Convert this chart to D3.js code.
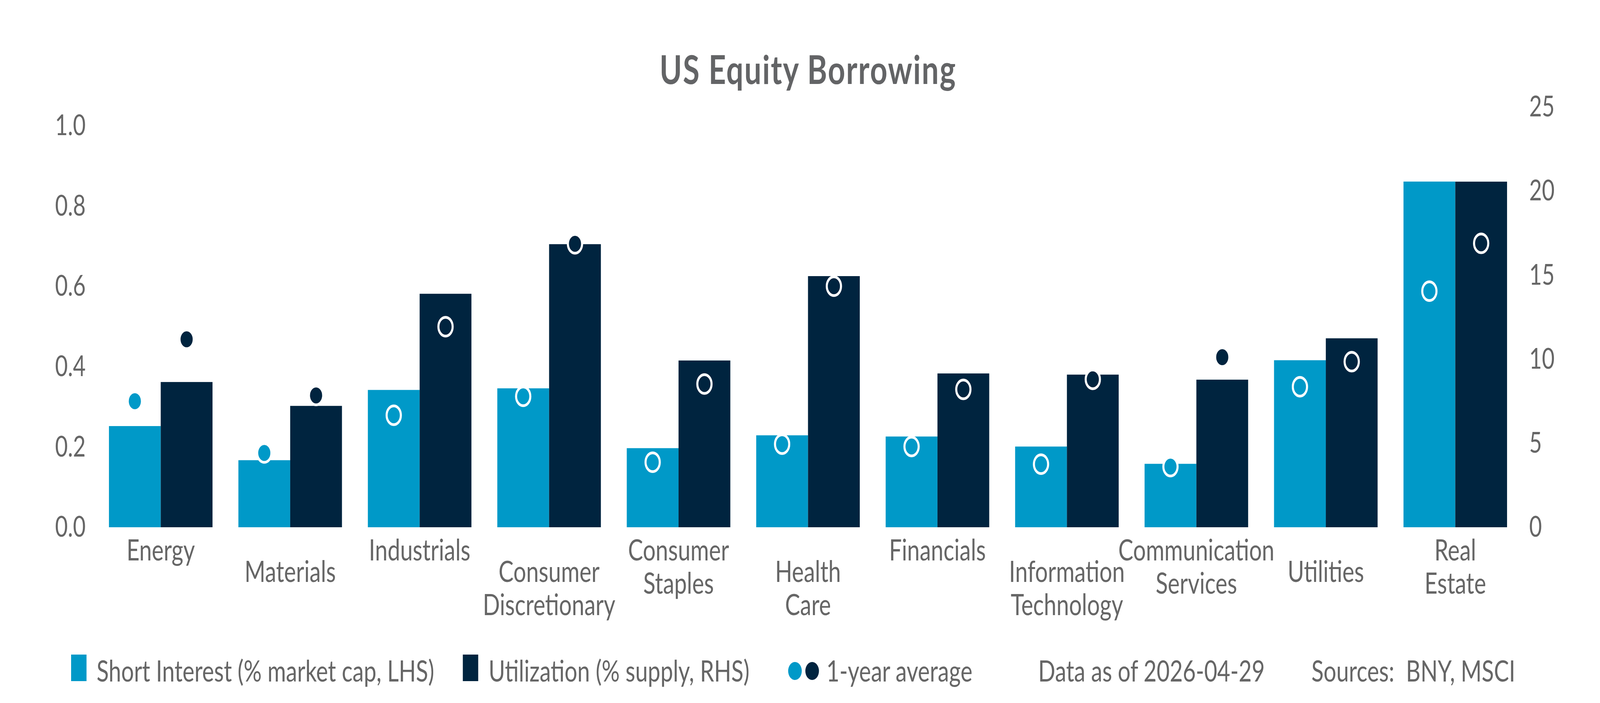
<!DOCTYPE html>
<html lang="en">
<head>
<meta charset="UTF-8" />
<title>US Equity Borrowing</title>
<script src="https://d3js.org/d3.v7.min.js"></script>
<style>
    html, body { margin: 0; padding: 0; background: #fff; overflow: hidden; }
    /* the drawing is laid out on a 5400x1800 grid and stretched to the window */
    #chart { display: block; width: 100vw; height: 100vh; }
    text { font-family: "Lato", "Open Sans", sans-serif; fill: #666666; }
    .title { font-weight: bold; fill: #636466; }
</style>
</head>
<body>
<svg id="chart" viewBox="0 0 5400 1800" preserveAspectRatio="none"></svg>
<script>
    // sectors (x axis)
    const categories = ["Energy", "Materials", "Industrials", "Consumer Discretionary", "Consumer Staples",
        "Health Care", "Financials", "Information Technology", "Communication Services", "Utilities", "Real Estate"];
    // short interest, % market cap (LHS)
    const shortInterest = [0.252, 0.167, 0.342, 0.346, 0.197, 0.229, 0.226, 0.201, 0.158, 0.416, 0.861];
    // utilization, % supply (RHS)
    const utilization = [8.64, 7.22, 13.89, 16.84, 9.92, 14.94, 9.15, 9.08, 8.78, 11.24, 20.56];
    // 1-year averages
    const shortAvg = [0.314, 0.185, 0.279, 0.326, 0.162, 0.207, 0.201, 0.157, 0.151, 0.350, 0.588];
    const utilAvg = [11.18, 7.84, 11.93, 16.86, 8.52, 14.34, 8.20, 8.80, 10.12, 9.85, 16.89];
    const leftTicks = [0, 0.2, 0.4, 0.6, 0.8, 1.0];
    const rightTicks = [0, 5, 10, 15, 20, 25];

    const lightBlue = "#0099c8";
    const navy = "#00243f";

    const svg = d3.select("#chart");
    const plotLeft = 324, plotRight = 5130, baseY = 1350;

    const x0 = d3.scaleBand().domain(categories).range([plotLeft, plotRight])
        .paddingInner(0.2).paddingOuter(0.1);
    const x1 = d3.scaleBand().domain(["si", "ut"]).range([0, x0.bandwidth()]);
    const yL = d3.scaleLinear().domain([0, 1]).range([baseY, 322]);
    const yR = d3.scaleLinear().domain([0, 25]).range([baseY, 274]);

    // title
    svg.append("text").attr("class", "title")
        .attr("x", (plotLeft + plotRight) / 2).attr("y", 215)
        .attr("text-anchor", "middle").style("font-size", "102px").style("letter-spacing", "3px")
        .text("US Equity Borrowing");

    // axes
    const axL = svg.append("g").attr("transform", `translate(${plotLeft},0)`)
        .call(d3.axisLeft(yL).tickValues(leftTicks).tickFormat(d3.format(".1f")).tickSize(0).tickPadding(35));
    const axR = svg.append("g").attr("transform", `translate(${plotRight},0)`)
        .call(d3.axisRight(yR).tickValues(rightTicks).tickFormat(d3.format("d")).tickSize(0).tickPadding(31));
    [axL, axR].forEach(a => {
        a.select(".domain").remove();
        a.selectAll("text").attr("font-family", null).style("font-size", "74px").attr("fill", null);
    });

    const rows = categories.map((c, i) => ({
        c, i, si: shortInterest[i], ut: utilization[i], sa: shortAvg[i], ua: utilAvg[i]
    }));

    // bars
    const grp = svg.append("g").selectAll("g").data(rows).join("g")
        .attr("transform", d => `translate(${x0(d.c)},0)`);
    grp.append("rect").attr("x", x1("si")).attr("width", x1.bandwidth())
        .attr("y", d => yL(d.si)).attr("height", d => baseY - yL(d.si)).attr("fill", lightBlue);
    grp.append("rect").attr("x", x1("ut")).attr("width", x1.bandwidth())
        .attr("y", d => yR(d.ut)).attr("height", d => baseY - yR(d.ut)).attr("fill", navy);

    // 1-year average dots
    grp.append("circle").attr("cx", x1("si") + x1.bandwidth() / 2).attr("cy", d => yL(d.sa))
        .attr("r", 24).attr("fill", lightBlue).attr("stroke", "#fff").attr("stroke-width", 7);
    grp.append("circle").attr("cx", x1("ut") + x1.bandwidth() / 2).attr("cy", d => yR(d.ua))
        .attr("r", 24).attr("fill", navy).attr("stroke", "#fff").attr("stroke-width", 7);

    // category labels, staggered every other one
    svg.append("g").selectAll("text").data(rows).join("text")
        .attr("text-anchor", "middle").style("font-size", "76px")
        .attr("x", d => x0(d.c) + x0.bandwidth() / 2)
        .attr("y", d => 1435 + (d.i % 2) * 55)
        .each(function (d) {
            d3.select(this).selectAll("tspan").data(d.c.split(" ")).join("tspan")
                .attr("x", x0(d.c) + x0.bandwidth() / 2)
                .attr("dy", (w, k) => k === 0 ? 0 : 85)
                .text(w => w);
        });

    // legend
    const lg = svg.append("g").style("font-size", "76px");
    const ly = 1745;
    lg.append("rect").attr("x", 240).attr("y", 1676).attr("width", 52).attr("height", 68).attr("fill", lightBlue);
    lg.append("text").attr("x", 326).attr("y", ly).text("Short Interest (% market cap, LHS)");
    lg.append("rect").attr("x", 1562).attr("y", 1676).attr("width", 52).attr("height", 68).attr("fill", navy);
    lg.append("text").attr("x", 1649).attr("y", ly).text("Utilization (% supply, RHS)");
    lg.append("circle").attr("cx", 2683).attr("cy", 1718).attr("r", 23).attr("fill", lightBlue);
    lg.append("circle").attr("cx", 2741).attr("cy", 1718).attr("r", 23).attr("fill", navy);
    lg.append("text").attr("x", 2789).attr("y", ly).text("1-year average");
    lg.append("text").attr("x", 3504).attr("y", ly).text("Data as of 2026-04-29");
    lg.append("text").attr("x", 4426).attr("y", ly).attr("xml:space", "preserve").text("Sources:  BNY, MSCI");
</script>
</body>
</html>
